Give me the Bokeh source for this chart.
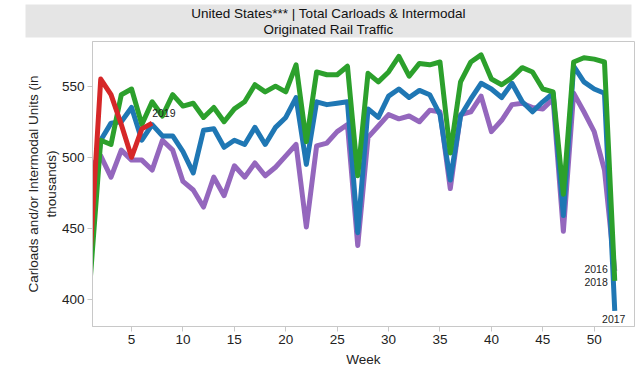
from bokeh.plotting import figure
from bokeh.layouts import column
from bokeh.models import Range1d, FixedTicker
from bokeh.core.properties import value
from bokeh.embed import file_html
from bokeh.resources import INLINE

title_lines = ["United States*** | Total Carloads & Intermodal", "Originated Rail Traffic"]
x_label = "Week"
y_label = "Carloads and/or Intermodal Units (in\nthousands)"
x_ticks = [5, 10, 15, 20, 25, 30, 35, 40, 45, 50]
y_ticks = [400, 450, 500, 550]

weeks = list(range(1, 53))
weeks_2019 = list(range(1, 8))

y2016 = [493, 501, 486, 505, 498, 498, 491, 512, 505, 483, 477, 465, 486, 473, 494, 486, 496, 487, 493, 501,
         509, 451, 508, 510, 518, 523, 438, 514, 522, 530, 527, 529, 525, 533, 532, 478, 530, 532, 543, 518,
         526, 537, 538, 535, 534, 541, 448, 545, 532, 518, 491, 420]
y2017 = [455, 512, 524, 525, 535, 512, 523, 515, 515, 504, 489, 519, 520, 507, 512, 509, 521, 509, 521, 528,
         542, 495, 539, 537, 538, 539, 447, 534, 528, 543, 548, 542, 547, 544, 530, 484, 529, 541, 552, 548,
         542, 552, 539, 532, 539, 545, 459, 564, 553, 548, 545, 392]
y2018 = [416, 512, 509, 544, 548, 523, 539, 529, 544, 536, 538, 528, 535, 525, 534, 539, 551, 546, 550, 546,
         565, 511, 560, 558, 558, 564, 487, 559, 553, 560, 571, 557, 566, 565, 567, 503, 553, 567, 572, 555,
         551, 556, 563, 560, 548, 546, 474, 567, 570, 569, 567, 413]
y2019 = [435, 555, 544, 523, 500, 520, 524]

FONT = "Liberation Sans"

# ---- title band figure ----
t = figure(width=640, height=40, x_range=Range1d(0, 606), y_range=Range1d(0, 33),
           output_backend="svg", toolbar_location=None,
           x_axis_location=None, y_axis_location=None,
           min_border_left=25, min_border_right=9, min_border_top=4, min_border_bottom=3,
           background_fill_color="#e5e5e5", border_fill_color="white", frame_align=False)
t.outline_line_color = None
t.grid.visible = False
t.text(x=[303, 303], y=[24, 8.5], text=title_lines, text_align="center", text_baseline="middle",
       text_font=value(FONT), text_font_size="13.5px", text_color="#111111")

# ---- main chart ----
p = figure(width=640, height=331, x_range=Range1d(1.2, 53.92), y_range=Range1d(381.0, 581.4),
           output_backend="svg", toolbar_location=None,
           min_border_left=92, min_border_right=6, min_border_top=1, min_border_bottom=45,
           background_fill_color="white", border_fill_color="white", frame_align=False)
p.grid.visible = False
p.outline_line_color = "#c8c8c8"

p.xaxis.ticker = FixedTicker(ticks=x_ticks)
p.yaxis.ticker = FixedTicker(ticks=y_ticks)
p.xaxis.axis_label = x_label
p.yaxis.axis_label = y_label
for ax in p.axis:
    ax.axis_label_text_font = FONT
    ax.axis_label_text_font_size = "13.5px"
    ax.axis_label_text_font_style = "normal"
    ax.axis_label_text_color = "#222222"
    ax.major_label_text_font = FONT
    ax.major_label_text_font_size = "13.5px"
    ax.major_label_text_color = "#222222"
    ax.axis_line_color = "#c8c8c8"
    ax.major_tick_line_color = "#c8c8c8"
    ax.major_tick_out = 5
    ax.major_tick_in = 0
    ax.minor_tick_line_color = None
    ax.major_label_standoff = 3
p.xaxis.axis_label_standoff = 5
p.yaxis.axis_label_standoff = 0

lw = 5
p.line(weeks, y2016, line_color="#9467bd", line_width=lw, line_join="round")
p.line(weeks, y2017, line_color="#1f77b4", line_width=lw, line_join="round")
p.line(weeks, y2018, line_color="#2ca02c", line_width=lw, line_join="round")
p.line(weeks_2019, y2019, line_color="#d62728", line_width=lw, line_join="round")

lab_kw = dict(text_font=value(FONT), text_font_size="10.5px", text_color="#222222", text_baseline="middle")
p.text(x=[weeks_2019[-1]], y=[y2019[-1]], text=["2019"], x_offset=0, y_offset=-10, text_align="left", **lab_kw)
p.text(x=[weeks[-1]], y=[y2016[-1]], text=["2016"], x_offset=-7, y_offset=-2, text_align="right", **lab_kw)
p.text(x=[weeks[-1]], y=[y2018[-1]], text=["2018"], x_offset=-7, y_offset=1, text_align="right", **lab_kw)
p.text(x=[weeks[-1]], y=[y2017[-1]], text=["2017"], x_offset=-1, y_offset=8, text_align="center", **lab_kw)

layout = column(t, p, spacing=0)
open("out.html", "w").write(file_html(layout, INLINE))
